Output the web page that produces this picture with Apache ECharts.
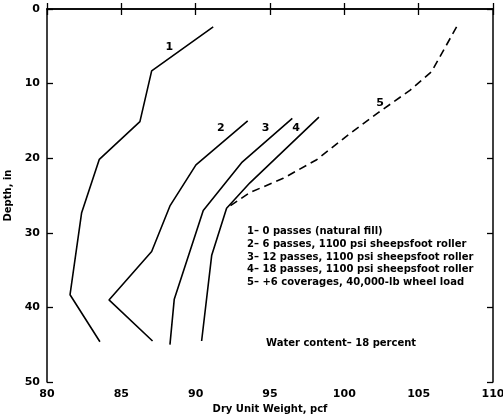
<!DOCTYPE html>
<html>
<head>
<meta charset="utf-8">
<script src="https://cdn.jsdelivr.net/npm/echarts@6/dist/echarts.min.js"></script>
<style>
  html, body { margin: 0; padding: 0; background: #fff; }
  #chart { width: 503px; height: 417px; }
</style>
</head>
<body>
<div id="chart"></div>
<script>
// Dry unit weight (pcf) versus depth (in) for each compaction stage
const curve1 = [[91.18, 2.4], [87.04, 8.3], [86.25, 15.1], [83.52, 20.15], [82.33, 27.3], [81.55, 38.3], [83.56, 44.6]];
const curve2 = [[93.5, 15.0], [90.02, 20.9], [88.27, 26.4], [87.04, 32.5], [84.17, 39.0], [87.1, 44.5]];
const curve3 = [[96.5, 14.65], [93.09, 20.6], [90.51, 27.0], [88.56, 38.9], [88.27, 45.0]];
const curve4 = [[98.29, 14.5], [93.65, 23.3], [92.08, 26.7], [91.08, 33.0], [90.4, 44.5]];
const curve5 = [[107.55, 2.4], [105.87, 8.4], [104.41, 10.9], [102.28, 13.9], [100.38, 16.7], [98.14, 20.2], [95.89, 22.7], [93.65, 24.6], [92.08, 26.7]];

// Curve number tags placed next to each curve
const curveTags = [
  { name: '1', value: [88.22, 5.05] },
  { name: '2', value: [91.7, 16.0] },
  { name: '3', value: [94.7, 16.0] },
  { name: '4', value: [96.75, 16.0] },
  { name: '5', value: [102.4, 12.6] }
];

const legendLines = [
  '1\u2013 0 passes (natural fill)',
  '2\u2013 6 passes, 1100 psi sheepsfoot roller',
  '3\u2013 12 passes, 1100 psi sheepsfoot roller',
  '4\u2013 18 passes, 1100 psi sheepsfoot roller',
  '5\u2013 +6 coverages, 40,000-lb wheel load'
];
const noteText = 'Water content\u2013 18 percent';

const xTicks = [80, 85, 90, 95, 100, 105, 110];
const yTicks = [0, 10, 20, 30, 40, 50];

const FONT = 'DejaVu Sans';
const lineStyle = { color: '#000', width: 1.6 };

function curveSeries(data, dashed) {
  return {
    type: 'line',
    data: data,
    symbol: 'none',
    smooth: false,
    silent: true,
    lineStyle: Object.assign({}, lineStyle, dashed ? { type: [8, 5] } : {})
  };
}

const chart = echarts.init(document.getElementById('chart'), null, { renderer: 'canvas' });

const axisCommon = {
  type: 'value',
  axisLine: { show: true, lineStyle: { color: '#000', width: 1.5 } },
  axisTick: { show: true, inside: true, length: 6, lineStyle: { color: '#000', width: 1.3 } },
  splitLine: { show: false }
};

chart.setOption({
  animation: false,
  backgroundColor: '#fff',
  grid: { left: 47, right: 10, top: 9, bottom: 35, containLabel: false, outerBoundsMode: 'none' },
  xAxis: [
    Object.assign({}, axisCommon, {
      position: 'bottom',
      min: xTicks[0], max: xTicks[xTicks.length - 1], interval: 5,
      name: 'Dry Unit Weight, pcf',
      nameLocation: 'middle', nameGap: 22,
      nameTextStyle: { fontFamily: FONT, fontSize: 10, fontWeight: 'bold', color: '#000' },
      axisLabel: { fontFamily: FONT, fontSize: 11, fontWeight: 'bold', color: '#000', margin: 7 }
    }),
    Object.assign({}, axisCommon, {
      position: 'top',
      min: xTicks[0], max: xTicks[xTicks.length - 1], interval: 5,
      axisLabel: { show: false }
    })
  ],
  yAxis: [
    Object.assign({}, axisCommon, {
      position: 'left', inverse: true,
      min: yTicks[0], max: yTicks[yTicks.length - 1], interval: 10,
      name: 'Depth, in',
      nameLocation: 'middle', nameGap: 30,
      nameTextStyle: { fontFamily: FONT, fontSize: 10, fontWeight: 'bold', color: '#000' },
      axisLabel: { fontFamily: FONT, fontSize: 11, fontWeight: 'bold', color: '#000', margin: 7 }
    }),
    Object.assign({}, axisCommon, {
      position: 'right', inverse: true,
      min: yTicks[0], max: yTicks[yTicks.length - 1], interval: 10,
      axisLabel: { show: false }
    })
  ],
  series: [
    curveSeries(curve1, false),
    curveSeries(curve2, false),
    curveSeries(curve3, false),
    curveSeries(curve4, false),
    curveSeries(curve5, true),
    {
      type: 'scatter',
      data: curveTags,
      symbolSize: 0,
      silent: true,
      itemStyle: { opacity: 1 },
      label: {
        show: true, position: 'inside', formatter: '{b}', opacity: 1,
        fontFamily: FONT, fontSize: 11, fontWeight: 'bold', color: '#000'
      }
    }
  ],
  graphic: [
    {
      type: 'text', left: 247, top: 225, silent: true,
      style: {
        text: legendLines.join('\n'),
        fontFamily: FONT, fontSize: 10, fontWeight: 'bold', fill: '#000',
        lineHeight: 12.8
      }
    },
    {
      type: 'text', left: 266, top: 338, silent: true,
      style: { text: noteText, fontFamily: FONT, fontSize: 10, fontWeight: 'bold', fill: '#000' }
    }
  ]
});
</script>
</body>
</html>
